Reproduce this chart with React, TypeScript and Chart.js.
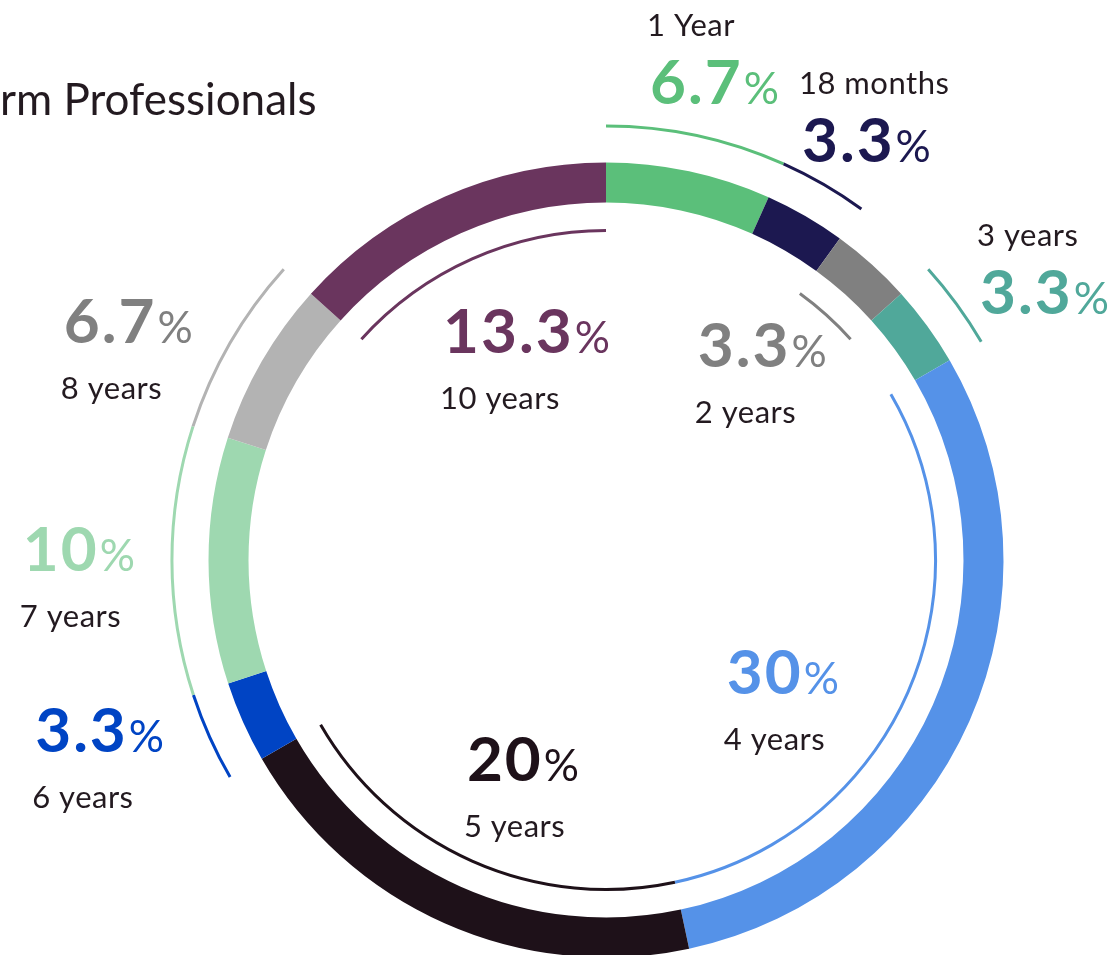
import React, { useEffect, useRef } from 'react';
import { Chart, registerables } from 'chart.js';

Chart.register(...registerables);

const TITLE = 'rm Professionals';
const CATEGORIES = ['1 Year', '18 months', '2 years', '3 years', '4 years', '5 years', '6 years', '7 years', '8 years', '10 years'];
const SHARES = [6.7, 3.3, 3.3, 3.3, 30, 20, 3.3, 10, 6.7, 13.3];
const SEGMENT_COLORS = ['#5bbf7a', '#1c1850', '#808080', '#50a89a', '#5592e8', '#1e1119', '#0044c4', '#9ed8b0', '#b3b3b3', '#6a355e'];
const VALUE_COLORS = ['#5bbf7a', '#1c1850', '#808080', '#50a89a', '#5592e8', '#1e1119', '#0044c4', '#9ed8b0', '#808080', '#6a355e'];
const GUIDE_SIDE = ['outer', 'outer', 'inner', 'outer', 'inner', 'inner', 'outer', 'outer', 'outer', 'inner'];
const NAME_ABOVE = [true, true, false, true, false, false, false, false, false, false];
// label anchor (left edge, value baseline) relative to the doughnut centre, in units of the outer radius
const LABEL_OFFSETS: number[][] = [
  [0.111, -1.147],
  [0.493, -1.001],
  [0.231, -0.486],
  [0.941, -0.619],
  [0.304, 0.337],
  [-0.35, 0.556],
  [-1.436, 0.483],
  [-1.467, 0.028],
  [-1.364, -0.546],
  [-0.41, -0.521],
];

const TEXT_DARK = '#231a20';
const FONT = 'Lato, "Open Sans", sans-serif';

const overlayPlugin = {
  id: 'overlay',
  afterDatasetsDraw(chart: any) {
    const ctx = chart.ctx as any;
    const meta = chart.getDatasetMeta(0);
    ctx.save();
    ctx.font = `44px ${FONT}`;
    ctx.fillStyle = TEXT_DARK;
    ctx.textAlign = 'left';
    ctx.textBaseline = 'alphabetic';
    ctx.fillText(TITLE, 0, 115);

    meta.data.forEach((arc: any, i: number) => {
      const p = arc.getProps(['x', 'y', 'startAngle', 'endAngle', 'outerRadius'], true);
      const r = GUIDE_SIDE[i] === 'outer' ? p.outerRadius * 1.092 : p.outerRadius * 0.829;
      ctx.beginPath();
      ctx.arc(p.x, p.y, r, p.startAngle, p.endAngle);
      ctx.strokeStyle = SEGMENT_COLORS[i];
      ctx.lineWidth = 3;
      ctx.lineCap = 'butt';
      ctx.stroke();

      const lx = p.x + LABEL_OFFSETS[i][0] * p.outerRadius;
      const ly = p.y + LABEL_OFFSETS[i][1] * p.outerRadius;
      const num = String(SHARES[i]);
      ctx.textAlign = 'left';
      ctx.textBaseline = 'alphabetic';
      ctx.fillStyle = VALUE_COLORS[i];
      ctx.font = `bold 62px ${FONT}`;
      ctx.letterSpacing = '2px';
      ctx.fillText(num, lx, ly);
      const w = ctx.measureText(num).width;
      ctx.letterSpacing = '0px';
      ctx.font = `44px ${FONT}`;
      ctx.fillText('%', lx + w + 1, ly);

      ctx.fillStyle = TEXT_DARK;
      ctx.font = `31px ${FONT}`;
      ctx.letterSpacing = '0.5px';
      ctx.fillText(CATEGORIES[i], lx - 3, ly + (NAME_ABOVE[i] ? -68 : 56));
      ctx.letterSpacing = '0px';
    });
    ctx.restore();
  },
};

export default function App() {
  const ref = useRef<HTMLCanvasElement | null>(null);
  useEffect(() => {
    if (!ref.current) return;
    const chart = new Chart(ref.current, {
      type: 'doughnut',
      data: {
        labels: CATEGORIES,
        datasets: [
          {
            data: SHARES,
            backgroundColor: SEGMENT_COLORS,
            borderWidth: 0,
          },
        ],
      },
      options: {
        animation: false,
        responsive: false,
        devicePixelRatio: 1,
        cutout: 357.5,
        layout: { padding: { left: 208.5, right: 112.5, top: 162.5, bottom: 42.5 } },
        plugins: { legend: { display: false }, tooltip: { enabled: false }, title: { display: false } },
      },
      plugins: [overlayPlugin],
    });
    return () => chart.destroy();
  }, []);
  return (
    <div style={{ position: 'fixed', left: 0, top: 0, width: 1116, height: 955, overflow: 'hidden', background: '#fff' }}>
      <canvas ref={ref} width={1116} height={1000} style={{ display: 'block' }} />
    </div>
  );
}
